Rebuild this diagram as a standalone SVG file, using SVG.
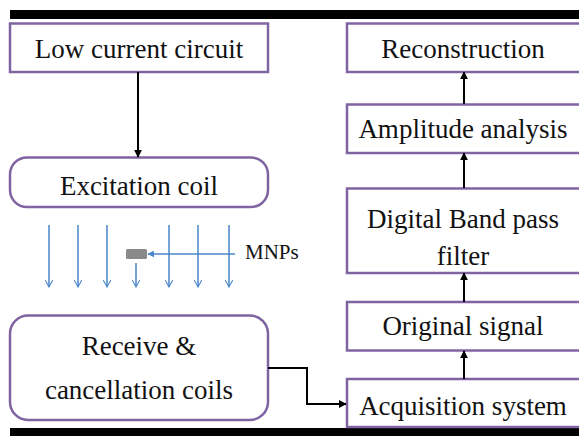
<svg xmlns="http://www.w3.org/2000/svg" width="579" height="436" viewBox="0 0 579 436">
  <style>
    .box { fill: #ffffff; stroke: #8064a2; stroke-width: 2.5; }
    .lbl { font-family: "Liberation Serif", "Times New Roman", serif; font-size: 27px; fill: #111; text-anchor: middle; }
    .conn { fill: none; stroke: #000; stroke-width: 2; }
    .field { fill: none; stroke: #4a86c8; stroke-width: 1.5; }
    .bar { fill: #000; }
  </style>
  <defs>
    <marker id="ah" viewBox="0 0 10 10" refX="9" refY="5" markerWidth="4" markerHeight="4" orient="auto">
      <path d="M0,0 L10,5 L0,10 Z" fill="#000"/>
    </marker>
    <marker id="bh" viewBox="0 0 12 12" refX="11" refY="6" markerWidth="8" markerHeight="8" markerUnits="userSpaceOnUse" orient="auto">
      <path d="M0,0 L11,6 L0,12" fill="none" stroke="#4a86c8" stroke-width="1.6"/>
    </marker>
    <marker id="bf" viewBox="0 0 10 10" refX="9" refY="5" markerWidth="7" markerHeight="7" markerUnits="userSpaceOnUse" orient="auto">
      <path d="M0,0 L10,5 L0,10 Z" fill="#4a86c8"/>
    </marker>
  </defs>

  <rect width="579" height="436" fill="#ffffff"/>

  <!-- frame bars -->
  <rect class="bar" x="10" y="10" width="569" height="9"/>
  <rect class="bar" x="10" y="428" width="569" height="8"/>

  <!-- left column -->
  <g id="low-current-circuit">
    <rect class="box" x="10" y="23.5" width="258" height="48.5"/>
    <text class="lbl" x="139" y="58">Low current circuit</text>
  </g>
  <g id="excitation-coil">
    <rect class="box" x="10" y="157.5" width="258" height="49.5" rx="17"/>
    <text class="lbl" x="139" y="195">Excitation coil</text>
  </g>
  <g id="receive-coils">
    <rect class="box" x="10" y="315.5" width="258" height="104.5" rx="18"/>
    <text class="lbl" x="139" y="355">Receive &amp;</text>
    <text class="lbl" x="139" y="399">cancellation coils</text>
  </g>

  <!-- right column -->
  <g id="reconstruction">
    <rect class="box" x="347" y="23.5" width="245" height="48.5"/>
    <text class="lbl" x="463" y="58">Reconstruction</text>
  </g>
  <g id="amplitude-analysis">
    <rect class="box" x="347" y="104.5" width="245" height="48.5"/>
    <text class="lbl" x="463" y="138">Amplitude analysis</text>
  </g>
  <g id="band-pass-filter">
    <rect class="box" x="347" y="188.5" width="245" height="84.5"/>
    <text class="lbl" x="463" y="228">Digital Band pass</text>
    <text class="lbl" x="463" y="265">filter</text>
  </g>
  <g id="original-signal">
    <rect class="box" x="347" y="302" width="245" height="48.5"/>
    <text class="lbl" x="463" y="335">Original signal</text>
  </g>
  <g id="acquisition-system">
    <rect class="box" x="347" y="379" width="245" height="48"/>
    <text class="lbl" x="463" y="415">Acquisition system</text>
  </g>

  <!-- magnetic field and particle -->
  <g id="field">
    <line class="field" x1="49" y1="225" x2="49" y2="287" marker-end="url(#bh)"/>
    <line class="field" x1="78" y1="225" x2="78" y2="287" marker-end="url(#bh)"/>
    <line class="field" x1="107" y1="225" x2="107" y2="287" marker-end="url(#bh)"/>
    <line class="field" x1="136" y1="263" x2="136" y2="287" marker-end="url(#bh)"/>
    <line class="field" x1="169" y1="225" x2="169" y2="287" marker-end="url(#bh)"/>
    <line class="field" x1="198" y1="225" x2="198" y2="287" marker-end="url(#bh)"/>
    <line class="field" x1="229" y1="225" x2="229" y2="287" marker-end="url(#bh)"/>
  </g>
  <g id="mnp">
    <rect x="126" y="249" width="21" height="10" rx="1.5" fill="#8a8a8a"/>
    <line class="field" x1="235" y1="254" x2="148" y2="254" marker-end="url(#bf)"/>
    <text x="245" y="259" font-family="Liberation Serif, Times New Roman, serif" font-size="21" fill="#111">MNPs</text>
  </g>

  <!-- connectors -->
  <g id="connectors">
    <line class="conn" x1="138" y1="72" x2="138" y2="157" marker-end="url(#ah)"/>
    <polyline class="conn" points="268,368 307,368 307,404 346,404" marker-end="url(#ah)"/>
    <line class="conn" x1="464" y1="379" x2="464" y2="351" marker-end="url(#ah)"/>
    <line class="conn" x1="464" y1="302" x2="464" y2="273" marker-end="url(#ah)"/>
    <line class="conn" x1="464" y1="188" x2="464" y2="153" marker-end="url(#ah)"/>
    <line class="conn" x1="464" y1="104" x2="464" y2="72" marker-end="url(#ah)"/>
  </g>
</svg>
